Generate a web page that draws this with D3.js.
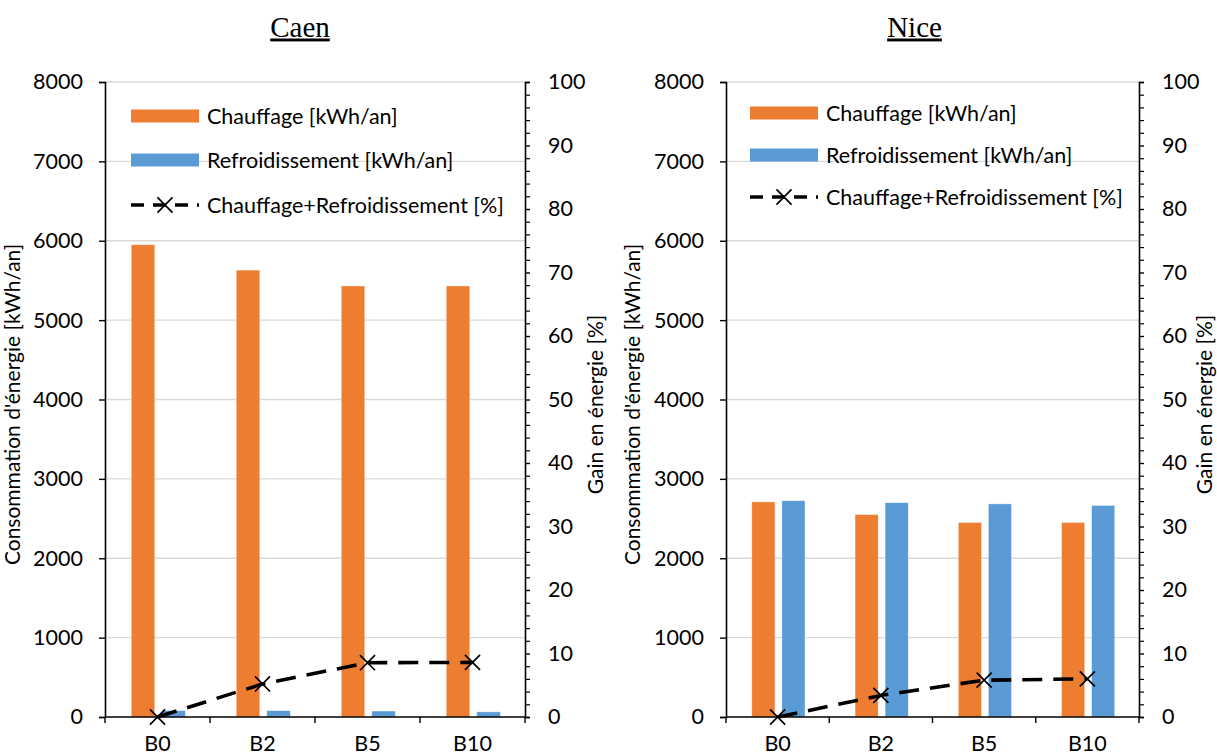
<!DOCTYPE html>
<html><head><meta charset="utf-8">
<script src="https://cdn.jsdelivr.net/npm/d3@7"></script>
<style>body{margin:0;background:#fff}svg{display:block}</style>
</head><body>
<svg id="chart" width="1217" height="755"></svg>
<script>
const categories = ["B0", "B2", "B5", "B10"];
const caenChauffage = [5950, 5630, 5430, 5430];
const caenRefroid = [80, 80, 75, 65];
const caenGain = [0, 5.2, 8.55, 8.6];
const niceChauffage = [2710, 2550, 2450, 2450];
const niceRefroid = [2725, 2700, 2685, 2665];
const niceGain = [0, 3.4, 5.8, 6.0];
const leftTicks = [0, 1000, 2000, 3000, 4000, 5000, 6000, 7000, 8000];
const rightTicks = [0, 10, 20, 30, 40, 50, 60, 70, 80, 90, 100];
const seriesNames = ["Chauffage [kWh/an]", "Refroidissement [kWh/an]", "Chauffage+Refroidissement [%]"];
const colors = ["#ED7D31", "#5B9BD5"];

const svg = d3.select("#chart");
const FONT = "Lato, 'Liberation Sans', sans-serif";
const FS = 21.5;

function panel(cfg) {
  const g = svg.append("g");
  const x = d3.scaleBand().domain(categories).range([cfg.left, cfg.right]).padding(0);
  const xs = d3.scaleBand().domain([0, 1]).range([x.bandwidth() * 0.25, x.bandwidth() * 0.765]).paddingInner(0.23);
  const y = d3.scaleLinear().domain([0, 8000]).range([cfg.bottom, cfg.top]);
  const y2 = d3.scaleLinear().domain([0, 100]).range([cfg.bottom, cfg.top]);

  // grid
  g.append("g").selectAll("line").data(leftTicks.filter(d => d > 0)).join("line")
    .attr("x1", cfg.left).attr("x2", cfg.right)
    .attr("y1", d => y(d)).attr("y2", d => y(d))
    .attr("stroke", "#d9d9d9").attr("stroke-width", 1.3);

  // bars
  const series = [cfg.chauffage, cfg.refroid];
  series.forEach((vals, si) => {
    g.append("g").selectAll("rect").data(vals).join("rect")
      .attr("x", (d, i) => x(categories[i]) + xs(si))
      .attr("width", xs.bandwidth())
      .attr("y", d => y(d))
      .attr("height", d => y(0) - y(d))
      .attr("fill", colors[si])
      .attr("stroke", "#fff").attr("stroke-opacity", 0.5).attr("stroke-width", 0.7);
  });

  // left axis
  const la = g.append("g").attr("transform", `translate(${cfg.left},0)`)
    .call(d3.axisLeft(y).tickValues(leftTicks).tickSize(6).tickPadding(16).tickFormat(d3.format("d")));
  la.select(".domain").attr("stroke", "#000").attr("stroke-width", 1.6);
  la.selectAll(".tick line").attr("stroke", "#000").attr("stroke-width", 1.4);
  la.selectAll("text").attr("font-family", FONT).attr("font-size", FS).attr("fill", "#000");

  // right axis major
  const ra = g.append("g").attr("transform", `translate(${cfg.right},0)`)
    .call(d3.axisRight(y2).tickValues(rightTicks).tickSize(5).tickPadding(18));
  ra.select(".domain").attr("stroke", "#000").attr("stroke-width", 1.6);
  ra.selectAll(".tick line").attr("stroke", "#000").attr("stroke-width", 1.4);
  ra.selectAll("text").attr("font-family", FONT).attr("font-size", FS).attr("fill", "#000");
  // right minor ticks
  const minor = d3.range(0, 101, 2).filter(d => d % 10 !== 0);
  g.append("g").attr("transform", `translate(${cfg.right},0)`)
    .call(d3.axisRight(y2).tickValues(minor).tickSize(5).tickFormat(""))
    .call(a => a.select(".domain").remove())
    .selectAll(".tick line").attr("stroke", "#000").attr("stroke-width", 1.2);

  // bottom axis
  const boundaries = categories.map(c => x(c)).concat([cfg.right]);
  g.append("line").attr("x1", cfg.left).attr("x2", cfg.right)
    .attr("y1", cfg.bottom).attr("y2", cfg.bottom).attr("stroke", "#000").attr("stroke-width", 1.6);
  g.append("g").selectAll("line").data(boundaries).join("line")
    .attr("x1", d => d).attr("x2", d => d).attr("y1", cfg.bottom).attr("y2", cfg.bottom + 6)
    .attr("stroke", "#000").attr("stroke-width", 1.4);
  g.append("g").selectAll("text").data(categories).join("text")
    .attr("x", d => x(d) + x.bandwidth() / 2).attr("y", cfg.bottom + 34)
    .attr("text-anchor", "middle").attr("font-family", FONT).attr("font-size", FS).text(d => d);

  // gain line
  const line = d3.line().x((d, i) => x(categories[i]) + x.bandwidth() / 2).y(d => y2(d));
  g.append("path").datum(cfg.gain).attr("d", line).attr("fill", "none")
    .attr("stroke", "#000").attr("stroke-width", 3.6).attr("stroke-dasharray", "20,11");
  const xm = d3.symbol().type(d3.symbolX).size(150);
  g.append("g").selectAll("path").data(cfg.gain).join("path")
    .attr("transform", (d, i) => `translate(${x(categories[i]) + x.bandwidth() / 2},${y2(d)})`)
    .attr("d", xm).attr("fill", "none").attr("stroke", "#000").attr("stroke-width", 1.7);

  // axis titles
  const cy = (cfg.top + cfg.bottom) / 2 + 5;
  g.append("text").attr("transform", `translate(${cfg.leftTitleX},${cy}) rotate(-90)`)
    .attr("text-anchor", "middle")
    .attr("font-family", FONT).attr("font-size", 21).text("Consommation d'énergie [kWh/an]");
  g.append("text").attr("transform", `translate(${cfg.rightTitleX},${cy}) rotate(-90)`)
    .attr("text-anchor", "middle")
    .attr("font-family", FONT).attr("font-size", 21).text("Gain en énergie [%]");

  // title
  g.append("text").attr("x", cfg.titleX).attr("y", 36.5).attr("text-anchor", "middle")
    .attr("font-family", "'Liberation Serif', 'Times New Roman', serif").attr("font-size", 29)
    .attr("text-decoration", "underline").text(cfg.title);

  // legend
  const lg = g.append("g");
  const lx = cfg.left + cfg.legDx;
  cfg.legRows.forEach((ry, i) => {
    if (i < 2) {
      lg.append("rect").attr("x", lx).attr("y", ry - 6.5).attr("width", 68).attr("height", 13).attr("fill", colors[i]);
    } else {
      lg.append("line").attr("x1", lx).attr("x2", lx + 68).attr("y1", ry).attr("y2", ry)
        .attr("stroke", "#000").attr("stroke-width", 3.6).attr("stroke-dasharray", "13,9");
      lg.append("path").attr("transform", `translate(${lx + 34},${ry})`).attr("d", xm)
        .attr("fill", "none").attr("stroke", "#000").attr("stroke-width", 1.7);
    }
    lg.append("text").attr("x", lx + 76).attr("y", ry).attr("dominant-baseline", "central")
      .attr("font-family", FONT).attr("font-size", FS).text(seriesNames[i]);
  });
}

panel({ title: "Caen", titleX: 300, left: 105, right: 525, top: 82, bottom: 717,
  chauffage: caenChauffage, refroid: caenRefroid, gain: caenGain,
  leftTitleX: 20, rightTitleX: 603, legDx: 26, legRows: [116, 160, 205] });
panel({ title: "Nice", titleX: 914.5, left: 726, right: 1139, top: 82, bottom: 717,
  chauffage: niceChauffage, refroid: niceRefroid, gain: niceGain,
  leftTitleX: 640, rightTitleX: 1212, legDx: 24, legRows: [113, 155, 197] });
</script>
</body></html>
